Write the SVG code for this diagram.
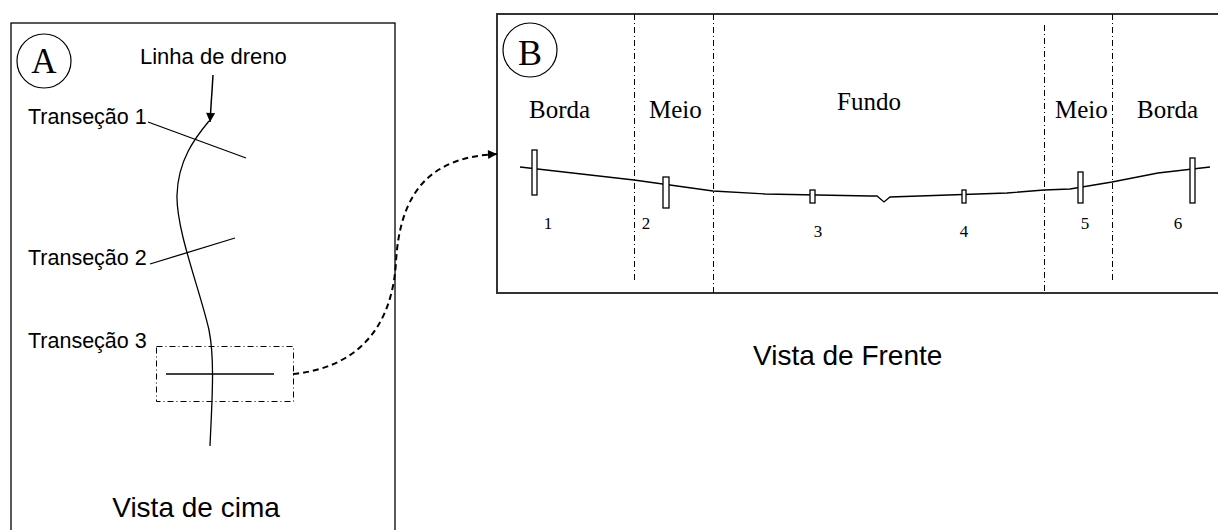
<svg xmlns="http://www.w3.org/2000/svg" width="1218" height="530" viewBox="0 0 1218 530">
<style>
.sans{font-family:"Liberation Sans",Arial,sans-serif;fill:#000}
.serif{font-family:"Liberation Serif","Times New Roman",serif;fill:#000}
.ln{fill:none;stroke:#000;stroke-width:1.3}
.dd{fill:none;stroke:#000;stroke-width:1;stroke-dasharray:6 3 1 3}
.post{fill:#fff;stroke:#000;stroke-width:1.3}
</style>
<defs>
<marker id="arr" viewBox="0 0 10 10" refX="10" refY="5" markerWidth="11" markerHeight="9" markerUnits="userSpaceOnUse" orient="auto">
<path d="M0,0 L10,5 L0,10 Z" fill="#000"/>
</marker>
</defs>
<rect width="1218" height="530" fill="#fff"/>
<g id="vista-cima">
<rect x="11" y="23" width="384" height="530" fill="none" stroke="#000" stroke-width="1.3"/>
<circle cx="44" cy="61" r="27" fill="none" stroke="#000" stroke-width="1.2"/>
<text class="serif" x="44" y="73" font-size="35" text-anchor="middle">A</text>
<text class="sans" x="140" y="64" font-size="22">Linha de dreno</text>
<text class="sans" x="28" y="124" font-size="21.5">Transeção 1</text>
<text class="sans" x="28" y="265" font-size="21.5">Transeção 2</text>
<text class="sans" x="28" y="348" font-size="21.5">Transeção 3</text>
<path class="ln" d="M209,121 C195,138 178,160 177,195 C176,230 200,290 209,330 C215,360 212,400 210,446"/>
<line class="ln" x1="148" y1="122" x2="246" y2="158"/>
<line class="ln" x1="150" y1="264" x2="235" y2="238"/>
<rect class="dd" x="156.5" y="346.5" width="137" height="55"/>
<line class="ln" x1="166" y1="374" x2="274" y2="374"/>
<text class="sans" x="196" y="517" font-size="28" text-anchor="middle">Vista de cima</text>
</g>
<g id="vista-frente">
<rect x="497" y="14" width="740" height="279" fill="none" stroke="#333" stroke-width="2"/>
<circle cx="530" cy="50" r="27" fill="none" stroke="#000" stroke-width="1.2"/>
<text class="serif" x="530" y="65" font-size="36" text-anchor="middle">B</text>
<line class="dd" x1="634.5" y1="14" x2="634.5" y2="283"/>
<line class="dd" x1="713.5" y1="14" x2="713.5" y2="293"/>
<line class="dd" x1="1044.5" y1="25" x2="1044.5" y2="293"/>
<line class="dd" x1="1112.5" y1="14" x2="1112.5" y2="283"/>
<text class="serif" x="529" y="118" font-size="25">Borda</text>
<text class="serif" x="649" y="118" font-size="25">Meio</text>
<text class="serif" x="837" y="110" font-size="25">Fundo</text>
<text class="serif" x="1055" y="118" font-size="25">Meio</text>
<text class="serif" x="1137" y="118" font-size="25">Borda</text>
<polyline class="ln" points="520,167 634,180 713,191 765,194 870,196 877,196 884,202 890,197 1007,193 1044,190 1070,189 1112,182 1158,173 1210,167"/>
<rect class="post" x="532" y="150" width="5" height="45"/>
<rect class="post" x="663" y="177" width="6" height="31"/>
<rect class="post" x="810" y="190" width="5" height="13"/>
<rect class="post" x="962" y="190" width="4" height="13"/>
<rect class="post" x="1078" y="172" width="5" height="31"/>
<rect class="post" x="1190" y="158" width="5" height="45"/>
<text class="serif" x="548" y="229" font-size="17" text-anchor="middle">1</text>
<text class="serif" x="646" y="229" font-size="17" text-anchor="middle">2</text>
<text class="serif" x="818" y="237" font-size="17" text-anchor="middle">3</text>
<text class="serif" x="964" y="237" font-size="17" text-anchor="middle">4</text>
<text class="serif" x="1085" y="229" font-size="17" text-anchor="middle">5</text>
<text class="serif" x="1178" y="229" font-size="17" text-anchor="middle">6</text>
<text class="sans" x="753" y="365" font-size="28">Vista de Frente</text>
</g>
<g id="connectors">
<line x1="213" y1="75" x2="210" y2="122" stroke="#000" stroke-width="1.5" marker-end="url(#arr)"/>
<path d="M293,374 C355,368 392,330 396,262 C400,190 432,157 497,154" fill="none" stroke="#000" stroke-width="2" stroke-dasharray="6 4" marker-end="url(#arr)"/>
</g>
</svg>
